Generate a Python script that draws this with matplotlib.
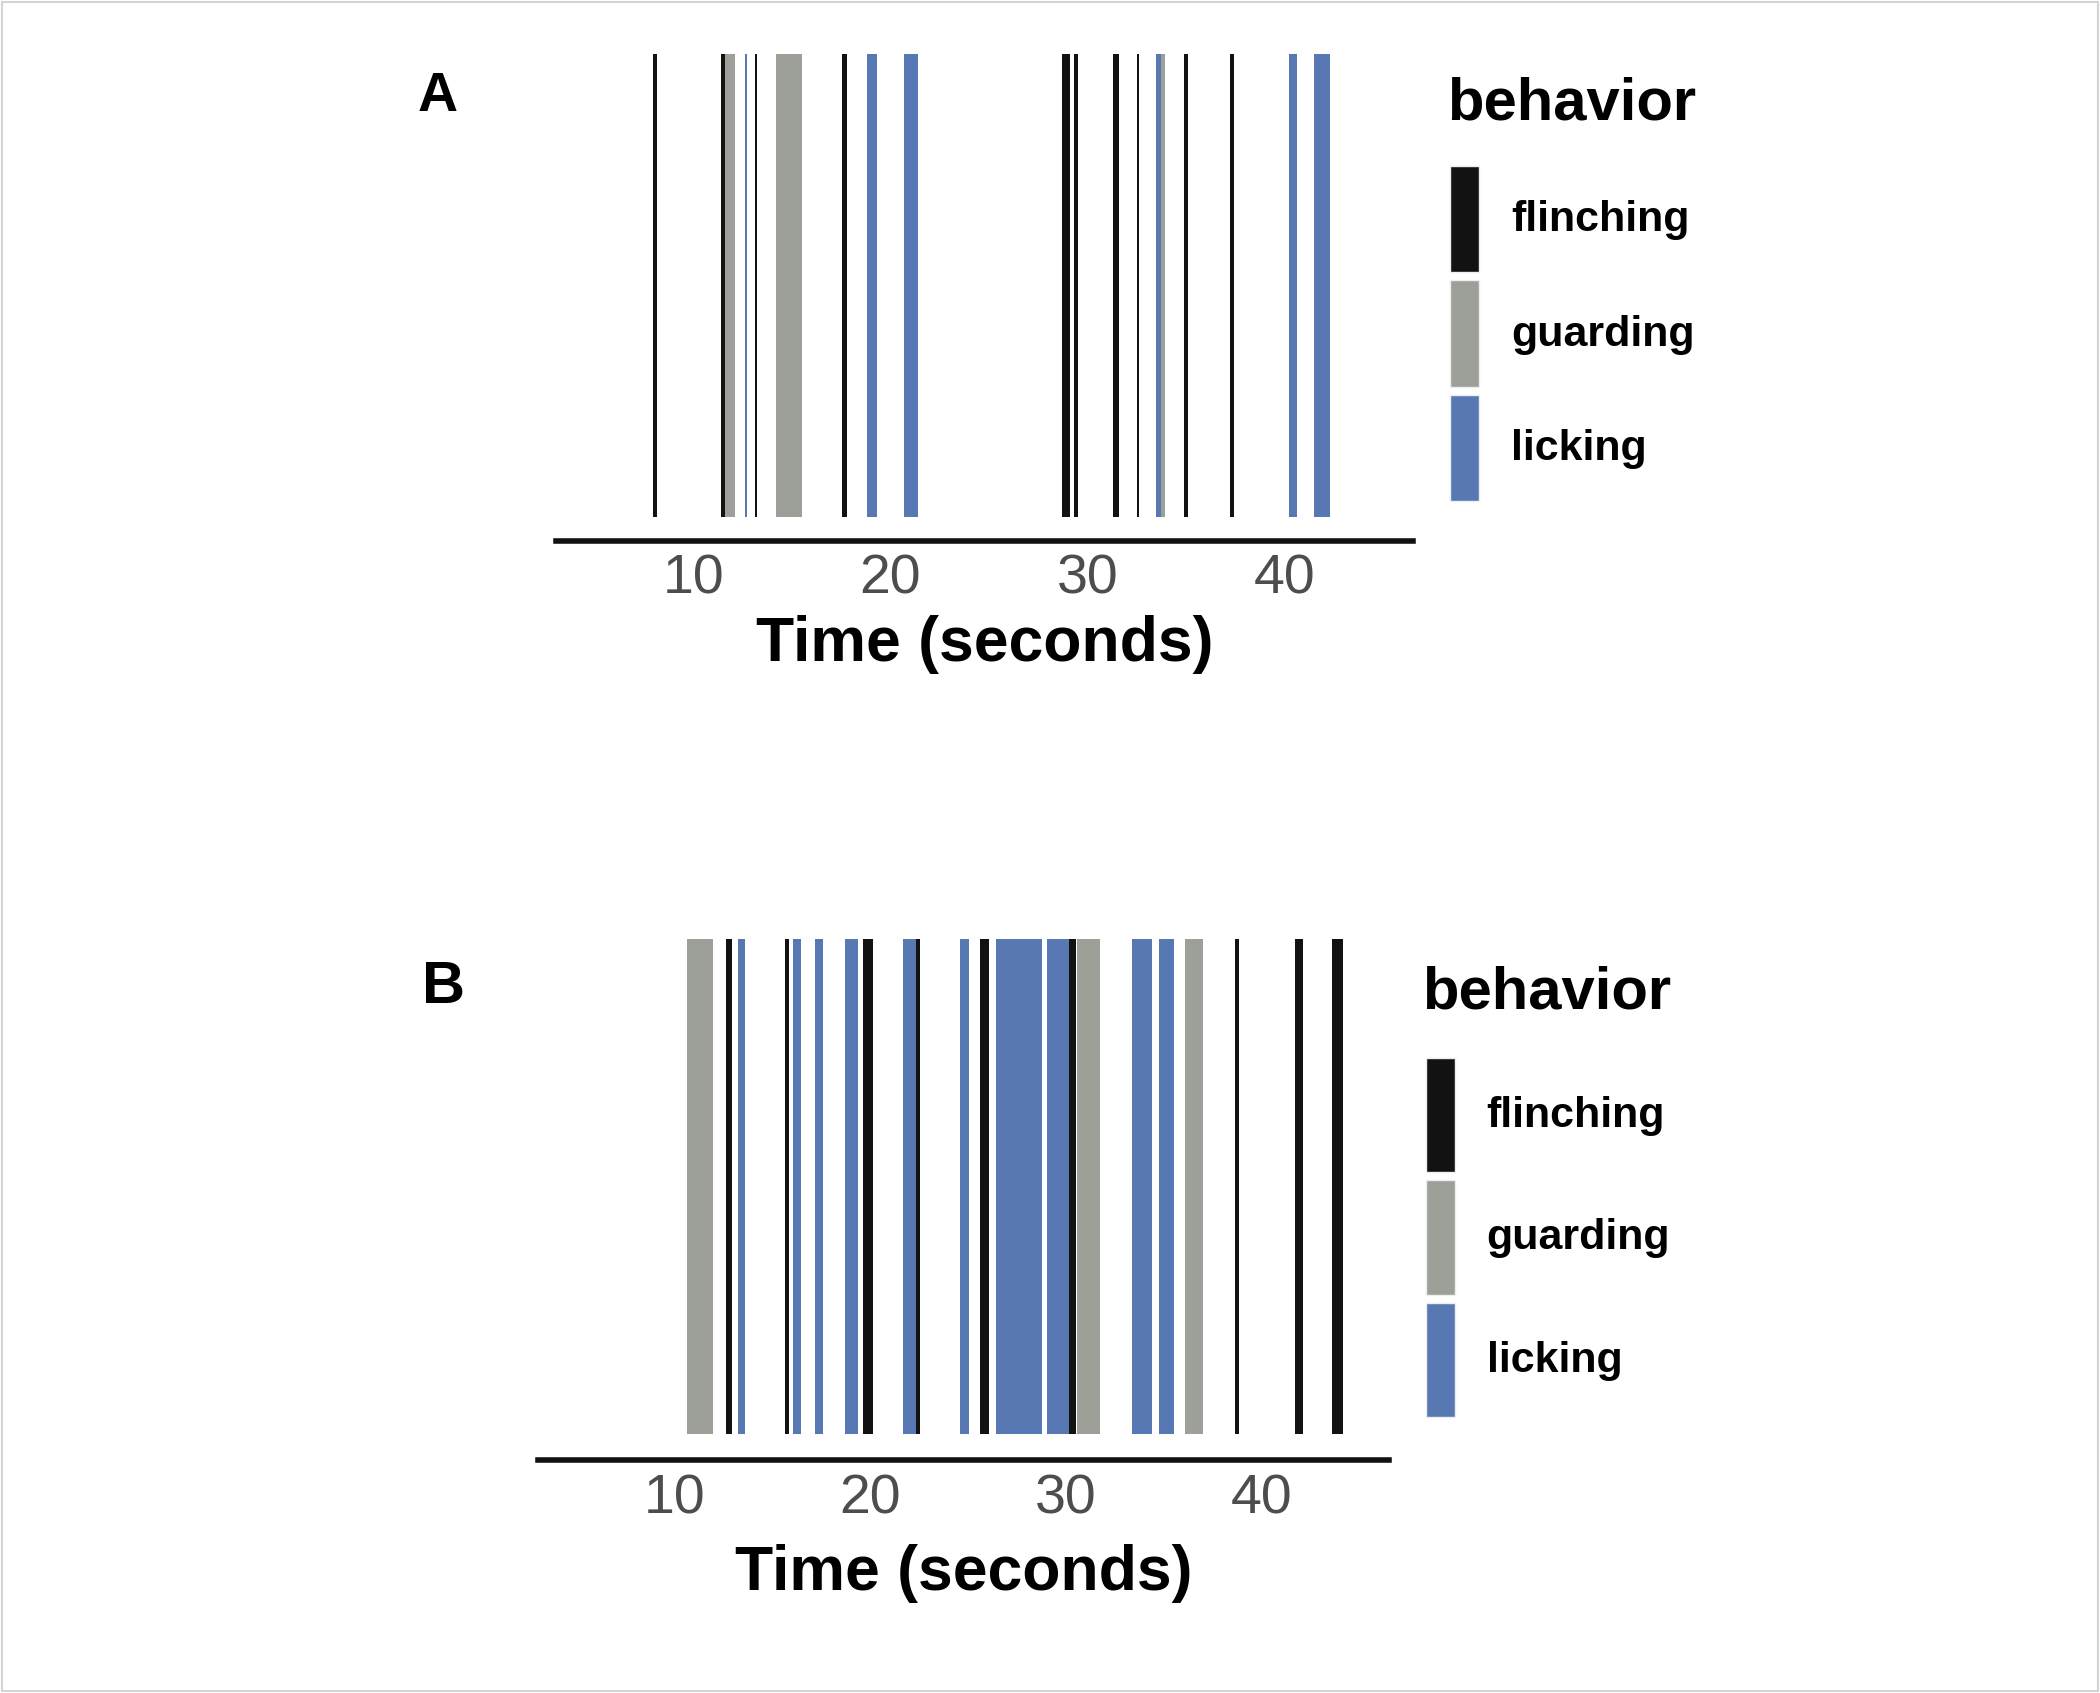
import matplotlib
matplotlib.use("Agg")
import matplotlib.pyplot as plt
from matplotlib.patches import Patch, Rectangle

plt.rcParams["font.family"] = ["Liberation Sans Narrow", "Liberation Sans", "DejaVu Sans"]

# behaviour colours
colors = {"flinching": "#121212", "guarding": "#9d9f99", "licking": "#5878b4"}
behaviors = ["flinching", "guarding", "licking"]

# Panel A events (seconds)
a_start = [7.97, 11.42, 11.62, 12.64, 13.15, 14.2, 17.55, 18.8, 20.7,
           28.7, 29.3, 31.3, 32.52, 33.45, 33.7, 34.9, 37.2, 40.2, 41.5]
a_end = [8.17, 11.62, 12.1, 12.74, 13.26, 15.5, 17.8, 19.3, 21.4,
         29.1, 29.5, 31.6, 32.6, 33.7, 33.9, 35.1, 37.4, 40.6, 42.3]
a_behavior = ["flinching", "flinching", "guarding", "licking", "flinching",
              "guarding", "flinching", "licking", "licking",
              "flinching", "flinching", "flinching", "flinching", "licking",
              "guarding", "flinching", "flinching", "licking", "licking"]

# Panel B events (seconds)
b_start = [10.65, 12.65, 13.27, 15.66, 16.07, 17.19, 18.72, 19.64, 21.68,
           22.35, 24.6, 25.6, 26.43, 29.03, 30.15, 30.56, 33.37, 34.74,
           36.1, 38.62, 41.68, 43.57]
b_end = [11.98, 12.96, 13.6, 15.87, 16.48, 17.6, 19.39, 20.15, 22.35,
         22.55, 25.05, 26.07, 28.78, 30.15, 30.5, 31.73, 34.39, 35.51,
         36.99, 38.83, 42.09, 44.13]
b_behavior = ["guarding", "flinching", "licking", "flinching", "licking",
              "licking", "licking", "flinching", "licking", "flinching",
              "licking", "flinching", "licking", "licking", "flinching",
              "guarding", "licking", "licking", "guarding", "flinching",
              "flinching", "flinching"]

xticks = [10, 20, 30, 40]

fig = plt.figure(figsize=(21, 16.93), dpi=100)
fig.patches.append(Rectangle((0.001, 0.001), 0.998, 0.998, transform=fig.transFigure,
                             fill=False, edgecolor="#d4d4d4", linewidth=1.5))


def draw_panel(rect, starts, ends, behs, label, label_pos, label_size,
               title_pos, legend_pos, key_h, tickpad, xlabelpad):
    ax = fig.add_axes(rect)
    for s, e, b in zip(starts, ends, behs):
        ax.axvspan(s, e, ymin=0.05, ymax=1.0, color=colors[b], linewidth=0)
    ax.set_xlim(3.05, 46.5)
    ax.set_ylim(0, 1)
    ax.set_yticks([])
    ax.set_xticks(xticks)
    ax.tick_params(axis="x", length=0, pad=tickpad, labelsize=40, labelcolor="#4d4d4d")
    for sp in ["top", "right", "left"]:
        ax.spines[sp].set_visible(False)
    ax.spines["bottom"].set_linewidth(4)
    ax.spines["bottom"].set_color("#111111")
    ax.set_xlabel("Time (seconds)", fontsize=45, fontweight="bold", labelpad=xlabelpad)

    fig.text(label_pos[0], label_pos[1], label, fontsize=label_size,
             fontweight="bold", family="Liberation Sans", va="top")
    fig.text(title_pos[0], title_pos[1], "behavior", fontsize=43,
             fontweight="bold", va="top")
    handles = [Patch(facecolor=colors[b], edgecolor="#eeeeee", linewidth=1)
               for b in behaviors]
    fig.legend(handles, behaviors, loc="upper left", bbox_to_anchor=legend_pos,
               frameon=False, borderpad=0, borderaxespad=0,
               prop={"size": 31, "weight": "bold"},
               handlelength=0.67, handleheight=key_h, labelspacing=0.19,
               handletextpad=0.74)
    return ax


draw_panel([0.2648, 0.6804, 0.4081, 0.2877], a_start, a_end, a_behavior,
           "A", (0.199, 0.958), 40, (0.689, 0.955), (0.6905, 0.902), 3.42, 9, 7)
draw_panel([0.2562, 0.1376, 0.4052, 0.3078], b_start, b_end, b_behavior,
           "B", (0.201, 0.433), 43, (0.677, 0.430), (0.679, 0.375), 3.70, 10, 13)

fig.savefig("out.png", dpi=100)
